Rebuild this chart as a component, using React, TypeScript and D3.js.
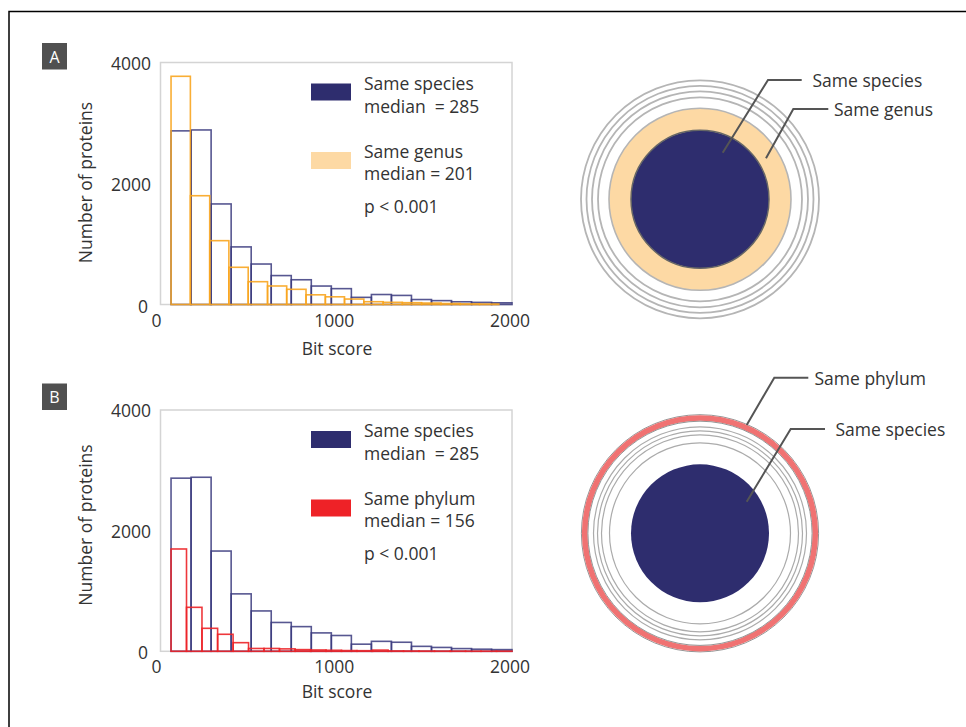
import * as d3 from "d3"

// histogram bin edges (bit score) and counts
const speciesEdges = [60, 174, 288, 402, 516, 630, 744, 858, 972, 1086, 1200, 1314, 1428, 1542, 1656, 1770, 1884, 2000]
const speciesCounts = [2870, 2885, 1662, 952, 669, 478, 409, 305, 262, 118, 165, 150, 82, 64, 45, 35, 28]

const genusEdges = [60, 170, 280, 389, 499, 609, 718, 828, 938, 1047, 1157, 1267, 1376, 1486, 1596, 1705, 1815, 1925]
const genusCounts = [3772, 1798, 1055, 615, 377, 306, 251, 160, 127, 90, 46, 36, 30, 24, 16, 10, 7]

const phylumEdges = [60, 148, 236, 325, 413, 501, 589, 677, 766, 854, 942, 1030, 1118, 1207, 1295, 1383, 1471, 1559, 1648, 1736, 1824, 1912, 2000]
const phylumCounts = [1696, 729, 381, 282, 143, 47, 47, 40, 28, 22, 17, 12, 10, 20, 6, 5, 4, 3, 3, 2, 2, 2]

const xTicks = [0, 1000, 2000]
const yTicks = [0, 2000, 4000]

const legendA = ["Same species", "median  = 285", "Same genus", "median = 201", "p < 0.001"]
const legendB = ["Same species", "median  = 285", "Same phylum", "median = 156", "p < 0.001"]

const ringsA = [119, 113.5, 108, 102]
const ringsB = [106.5, 102.5, 98.5, 90.5]

const NAVY = "#2e2d6e"
const FONT = "'Open Sans', sans-serif"
const TXT = "#333"
const FS = 17.5

type Panel = {
  top: number
  bottom: number
  letter: string
  letterY: number
  second: { edges: number[]; counts: number[]; color: string; swatch: string }
  legend: string[]
  bitY: number
  yLabelY: number
}

const panels: Panel[] = [
  {
    top: 62.5, bottom: 304.5, letter: "A", letterY: 43,
    second: { edges: genusEdges, counts: genusCounts, color: "#f8a51f", swatch: "#fdd9a4" },
    legend: legendA, bitY: 348, yLabelY: 182.5,
  },
  {
    top: 410, bottom: 651.3, letter: "B", letterY: 383.5,
    second: { edges: phylumEdges, counts: phylumCounts, color: "#ec2227", swatch: "#ee2227" },
    legend: legendB, bitY: 690.5, yLabelY: 525,
  },
]

function bars(edges: number[], counts: number[]) {
  return counts.map((c, i) => ({ x0: edges[i], x1: edges[i + 1], c }))
}

function Histogram({ p }: { p: Panel }) {
  const x = d3.scaleLinear().domain([0, 2000]).range([160.5, 512])
  const y = d3.scaleLinear().domain([0, 4000]).range([p.bottom, p.top])
  const legY = [20, 43, 88, 110, 143].map(d => p.top + d)
  return (
    <g fontFamily={FONT} fill={TXT}>
      <rect x={42} y={p.letterY} width={25} height={26.5} fill="#505050" />
      <text x={54.5} y={p.letterY + 13.5} fill="#fff" fontSize={16} textAnchor="middle" dominantBaseline="central">{p.letter}</text>
      <rect x={x(0)} y={y(4000)} width={x(2000) - x(0)} height={y(0) - y(4000)} fill="none" stroke="#d4d4d4" strokeWidth={1.5} />
      {bars(speciesEdges, speciesCounts).map((b, i) => (
        <rect key={"s" + i} x={x(b.x0)} y={y(b.c)} width={x(b.x1) - x(b.x0)} height={y(0) - y(b.c)}
          fill="none" stroke="#3a3a7e" strokeOpacity={0.85} strokeWidth={1.6} />
      ))}
      {bars(p.second.edges, p.second.counts).map((b, i) => (
        <rect key={"o" + i} x={x(b.x0)} y={y(b.c)} width={x(b.x1) - x(b.x0)} height={y(0) - y(b.c)}
          fill="none" stroke={p.second.color} strokeOpacity={0.9} strokeWidth={1.6} />
      ))}
      {yTicks.map(t => (
        <text key={"y" + t} x={151 - (t === 0 ? 3 : 0)} y={y(t) + (t === 0 ? 1 : 0)} fontSize={FS} textAnchor="end" dominantBaseline="central">{t}</text>
      ))}
      {xTicks.map(t => (
        <text key={"x" + t} x={x(t) - (t === 0 ? 4 : 2)} y={p.bottom + 15} fontSize={FS} textAnchor="middle" dominantBaseline="central">{t}</text>
      ))}
      <text x={337} y={p.bitY} fontSize={FS} textAnchor="middle" dominantBaseline="central">Bit score</text>
      <text transform={`translate(85,${p.yLabelY}) rotate(-90)`} fontSize={FS} textAnchor="middle" dominantBaseline="central">Number of proteins</text>
      <rect x={311} y={p.top + 21} width={40} height={17} fill={NAVY} />
      <rect x={311} y={p.top + 89.5} width={40} height={17} fill={p.second.swatch} />
      {p.legend.map((s, i) => (
        <text key={"l" + i} x={364} y={legY[i]} fontSize={FS} dominantBaseline="central" style={{ whiteSpace: "pre" }}>{s}</text>
      ))}
    </g>
  )
}

function Leader({ pts, label, tx }: { pts: [number, number][]; label: string; tx: number }) {
  const line = d3.line()
  const last = pts[pts.length - 1]
  return (
    <g>
      <path d={line(pts) ?? ""} fill="none" stroke="#555" strokeWidth={2} />
      <text x={tx} y={last[1]} fontFamily={FONT} fontSize={FS} fill={TXT} dominantBaseline="central">{label}</text>
    </g>
  )
}

export default function App() {
  const cxA = 700, cyA = 199.3
  const cxB = 700, cyB = 533.3
  return (
    <svg width={966} height={727} style={{ position: "absolute", left: 0, top: 0, background: "#fff" }}>
      <path d="M9,727 V11.5 H966" fill="none" stroke="#000" strokeWidth={1.5} />
      {panels.map(p => <Histogram key={p.letter} p={p} />)}

      {/* circle A */}
      {ringsA.map(r => <circle key={r} cx={cxA} cy={cyA} r={r} fill="none" stroke="#b5b5b5" strokeWidth={1.8} />)}
      <circle cx={cxA} cy={cyA} r={91} fill="#fdd9a4" stroke="#b5b5b5" strokeWidth={1.6} />
      <circle cx={cxA} cy={cyA} r={69} fill={NAVY} stroke="#666" strokeWidth={1.5} />
      <Leader pts={[[722.7, 152.7], [768, 80], [801.7, 80]]} label="Same species" tx={812.5} />
      <Leader pts={[[766, 158.3], [793.3, 109], [828.3, 109]]} label="Same genus" tx={834} />

      {/* circle B */}
      <circle cx={cxB} cy={cyB} r={118.6} fill="none" stroke="#888" strokeWidth={0.9} />
      <circle cx={cxB} cy={cyB} r={115.3} fill="none" stroke="#f07272" strokeWidth={5.6} />
      <circle cx={cxB} cy={cyB} r={112.1} fill="none" stroke="#888" strokeWidth={0.9} />
      {ringsB.map(r => <circle key={r} cx={cxB} cy={cyB} r={r} fill="none" stroke="#ababab" strokeWidth={1.2} />)}
      <circle cx={cxB} cy={cyB} r={69} fill={NAVY} />
      <Leader pts={[[746.7, 425], [774.3, 377.7], [808.3, 377.7]]} label="Same phylum" tx={814.5} />
      <Leader pts={[[746.7, 501.7], [790.7, 429], [825, 429]]} label="Same species" tx={835.5} />
    </svg>
  )
}
